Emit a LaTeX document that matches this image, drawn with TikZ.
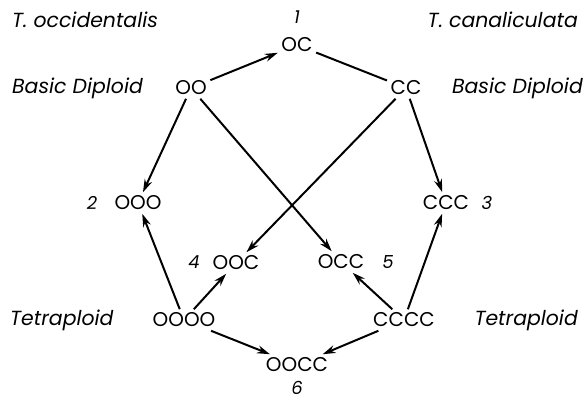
\documentclass[tikz,border=0pt]{standalone}
\usepackage{fontspec}
\setmainfont{Poppins}
\usetikzlibrary{arrows.meta}
\tikzset{
  x=1bp, y=-1bp,
  lbl/.style={font=\fontsize{20.5}{22}\selectfont\itshape, inner sep=0pt},
  gen/.style={font=\fontsize{20}{22}\selectfont, inner sep=3.5pt},
  num/.style={font=\fontsize{18}{20}\selectfont\itshape, inner sep=0pt},
  conn/.style={line width=2pt},
  arr/.style={conn, -{Stealth[length=13pt,width=8pt]}},
}
\begin{document}
\begin{tikzpicture}
\useasboundingbox (0,0) rectangle (587,400);
% labels
\node[lbl, anchor=west] (tocc) at (12,20) {T. occidentalis};
\node[lbl, anchor=east] (tcan) at (578,20) {T. canaliculata};
\node[lbl, anchor=west] (bdl) at (12,88) {Basic Diploid};
\node[lbl, anchor=east] (bdr) at (583,88) {Basic Diploid};
\node[lbl, anchor=west] (tl) at (10,320) {Tetraploid};
\node[lbl, anchor=east] (tr) at (578,320) {Tetraploid};
% numbers
\node[num] (n1) at (297,17) {1};
\node[num] (n2) at (92,203) {2};
\node[num] (n3) at (487,203) {3};
\node[num] (n4) at (194,262) {4};
\node[num] (n5) at (388,262) {5};
\node[num] (n6) at (297,388) {6};
% genomes
\node[gen] (OC) at (297,45) {OC};
\node[gen] (OO) at (191,88) {OO};
\node[gen] (CC) at (406,88) {CC};
\node[gen] (OOO) at (138,203) {OOO};
\node[gen] (CCC) at (446,203) {CCC};
\node[gen] (OOC) at (236,263) {OOC};
\node[gen] (OCC) at (341,262) {OCC};
\node[gen] (OOOO) at (184,320) {OOOO};
\node[gen] (CCCC) at (404,320) {CCCC};
\node[gen] (OOCC) at (297,365) {OOCC};
% connectors
\draw[arr] (OO) -- (OC);
\draw[conn] (OC) -- (CC);
\draw[arr] (OO) -- (OOO);
\draw[arr] (OO) -- (OCC);
\draw[arr] (CC) -- (OOC);
\draw[arr] (CC) -- (CCC);
\draw[arr] (OOOO) -- (OOO);
\draw[arr] (OOOO) -- (OOC);
\draw[arr] (OOOO) -- (OOCC);
\draw[arr] (CCCC) -- (OCC);
\draw[arr] (CCCC) -- (CCC);
\draw[arr] (CCCC) -- (OOCC);
\end{tikzpicture}
\end{document}
